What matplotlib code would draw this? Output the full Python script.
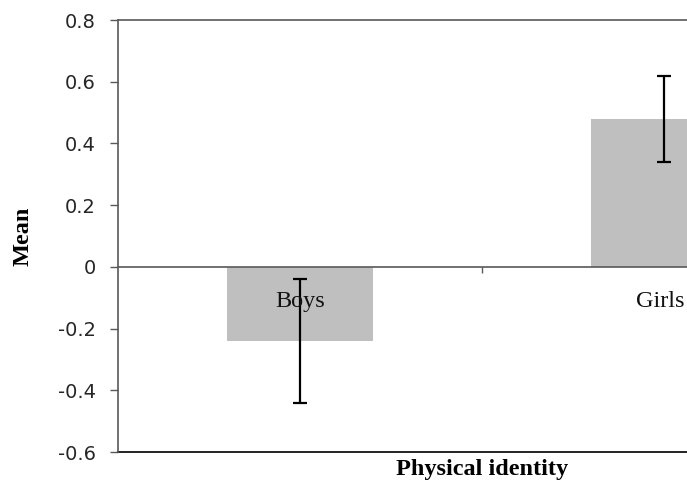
import matplotlib
matplotlib.use("Agg")
import matplotlib.pyplot as plt

categories = ["Boys", "Girls"]
means = [-0.24, 0.48]
errors = [0.20, 0.14]
yticks = [-0.6, -0.4, -0.2, 0, 0.2, 0.4, 0.6, 0.8]
ytick_labels = ["-0.6", "-0.4", "-0.2", "0", "0.2", "0.4", "0.6", "0.8"]

W, H = 687, 487
fig = plt.figure(figsize=(W / 100, H / 100), dpi=100)
ax = fig.add_axes([118 / W, 35 / H, 728 / W, 432 / H])

xpos = [0.5 + i for i in range(len(categories))]
ax.bar(xpos, means, width=0.4, color="#BFBFBF", zorder=2)
ax.errorbar(xpos, means, yerr=errors, fmt="none", ecolor="black",
            elinewidth=1.6, capsize=5, capthick=1.6, zorder=3)

ax.set_xlim(0, 2)
ax.set_ylim(-0.6, 0.8)
ax.set_yticks(yticks)
ax.set_yticklabels(ytick_labels, fontsize=14, color="#262626", family="DejaVu Sans")
ax.tick_params(axis="y", direction="out", length=6, width=1, color="#595959", pad=10)

ax.spines["right"].set_visible(False)
for s in ["left", "top", "bottom"]:
    ax.spines[s].set_color("#595959")
    ax.spines[s].set_linewidth(1.2)
ax.spines["bottom"].set_position(("data", 0))
ax.spines["bottom"].set_zorder(4)
ax.set_xticks([1.0])
ax.set_xticklabels([""])
ax.tick_params(axis="x", direction="out", length=4, width=1, color="#595959")
ax.axhline(-0.6, color="#222222", linewidth=1.4, clip_on=False)

offsets = [0, -3]
for x, c, dx in zip(xpos, categories, offsets):
    ax.annotate(c, xy=(x, -0.113), xytext=(dx, 0), textcoords="offset points",
                ha="center", va="center", fontsize=17.5,
                family="Liberation Serif", color="#111111", zorder=5)

fig.text(482 / W, 1 - 470 / H, "Physical identity", ha="center", va="center",
         fontsize=17.5, fontweight="bold", family="Liberation Serif")
fig.text(23 / W, 1 - 236 / H, "Mean", ha="center", va="center", rotation=90,
         fontsize=17.5, fontweight="bold", family="Liberation Serif")

fig.savefig("out.png", dpi=100)
